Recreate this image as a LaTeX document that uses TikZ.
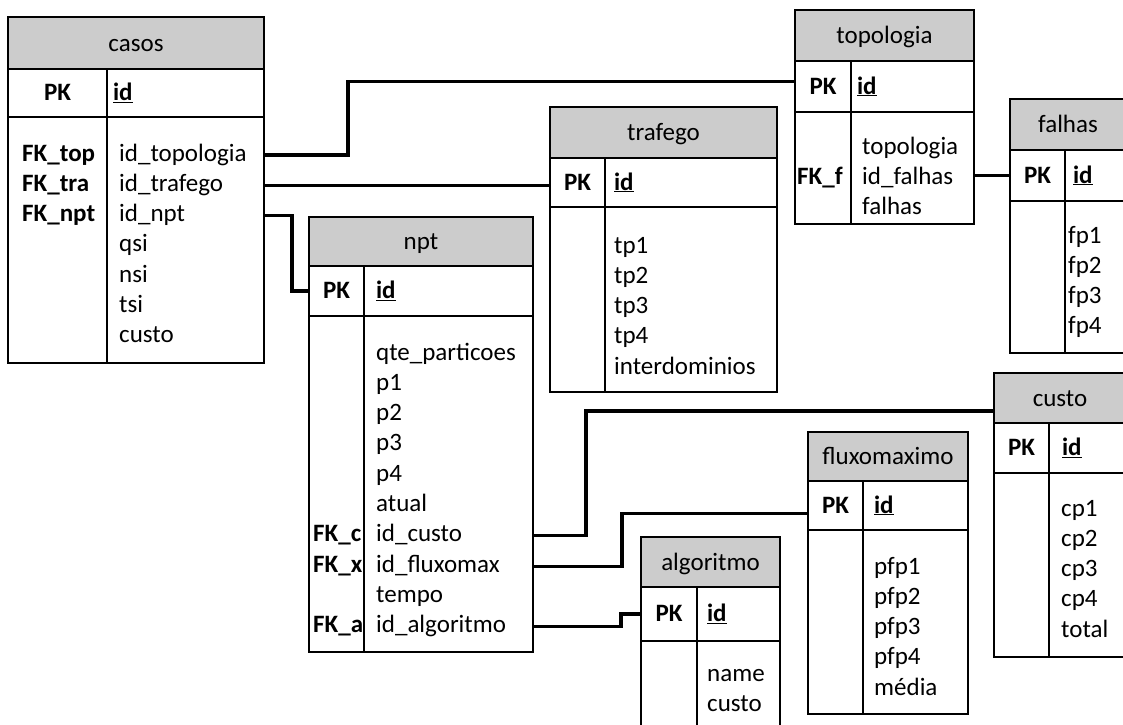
\documentclass[tikz,border=0pt]{standalone}
\usepackage{fontspec}
\setmainfont{Carlito}
\definecolor{headGray}{RGB}{204,204,204}
\tikzstyle{TabHead}=[rectangle, draw=black, fill=headGray, line width=2pt, inner sep=0pt, outer sep=0pt, anchor=north west, text height=20pt, text depth=3.4pt]
\tikzstyle{TabCell}=[rectangle, draw=black, line width=2pt, inner sep=0pt, outer sep=0pt, anchor=north west]
\tikzstyle{PkCell}=[TabCell, font=\bfseries, text height=19pt, text depth=4pt]
\tikzstyle{IdCell}=[TabCell, font=\bfseries, align=left, text height=19pt, text depth=4pt]
\tikzstyle{ColList}=[inner sep=0pt, anchor=base west, text width=200pt, align=left]
\tikzstyle{FkText}=[inner sep=0pt, anchor=base west, font=\bfseries]
\tikzstyle{RefEdge}=[line width=3.2pt]

\begin{document}
\fontsize{25}{30.3}\selectfont
\begin{tikzpicture}[x=1pt, y=-1pt]
\fill[white] (0,0) rectangle (1123,724);
\useasboundingbox (0,0) rectangle (1123,724);
\clip (0,0) rectangle (1123,724);

% casos
\node[TabHead, minimum width=256pt, minimum height=52pt](casos) at (8,17) {casos};
\node[PkCell, minimum width=99pt, minimum height=48pt](casosPK) at (casos.south west) {PK};
\node[IdCell, minimum height=48pt, inner xsep=6pt, text width=145pt](casosID) at (casosPK.north east) {\underline{id}};
\node[TabCell, minimum width=99pt, minimum height=246pt](casosKeys) at (casosPK.south west) {};
\node[TabCell, minimum width=157pt, minimum height=246pt](casosCols) at (casosKeys.north east) {};
\node[ColList](casosList) at (119,161) {id\_topologia\\id\_trafego\\id\_npt\\qsi\\nsi\\tsi\\custo};
\node[FkText](fkTop) at (22,161) {FK\_top};
\node[FkText](fkTra) at (22,191.3) {FK\_tra};
\node[FkText](fkNpt) at (22,221.6) {FK\_npt};

% topologia
\node[TabHead, minimum width=179pt, minimum height=51pt](topologia) at (795,10) {topologia};
\node[PkCell, minimum width=56pt, minimum height=51pt](topoPK) at (topologia.south west) {PK};
\node[IdCell, minimum height=51pt, inner xsep=6pt, text width=111pt](topoID) at (topoPK.north east) {\underline{id}};
\node[TabCell, minimum width=56pt, minimum height=112pt](topoKeys) at (topoPK.south west) {};
\node[TabCell, minimum width=123pt, minimum height=112pt](topoCols) at (topoKeys.north east) {};
\node[ColList](topoList) at (862,154) {topologia\\id\_falhas\\falhas};
\node[FkText](fkF) at (797,184.3) {FK\_f};

% falhas
\node[TabHead, minimum width=116pt, minimum height=51pt](falhas) at (1010,99) {falhas};
\node[PkCell, minimum width=55pt, minimum height=51pt](falhasPK) at (falhas.south west) {PK};
\node[IdCell, minimum height=51pt, inner xsep=8pt, text width=45pt](falhasID) at (falhasPK.north east) {\underline{id}};
\node[TabCell, minimum width=55pt, minimum height=152pt](falhasKeys) at (falhasPK.south west) {};
\node[TabCell, minimum width=61pt, minimum height=152pt](falhasCols) at (falhasKeys.north east) {};
\node[ColList](falhasList) at (1068,243) {fp1\\fp2\\fp3\\fp4};

% trafego
\node[TabHead, minimum width=227pt, minimum height=51pt](trafego) at (550,107) {trafego};
\node[PkCell, minimum width=55pt, minimum height=49pt](trafPK) at (trafego.south west) {PK};
\node[IdCell, minimum height=49pt, inner xsep=9pt, text width=154pt](trafID) at (trafPK.north east) {\underline{id}};
\node[TabCell, minimum width=55pt, minimum height=185pt](trafKeys) at (trafPK.south west) {};
\node[TabCell, minimum width=172pt, minimum height=185pt](trafCols) at (trafKeys.north east) {};
\node[ColList](trafList) at (614,253) {tp1\\tp2\\tp3\\tp4\\interdominios};

% npt
\node[TabHead, minimum width=224pt, minimum height=49pt](npt) at (309,217) {npt};
\node[PkCell, minimum width=55pt, minimum height=50pt](nptPK) at (npt.south west) {PK};
\node[IdCell, minimum height=50pt, inner xsep=12pt, text width=145pt](nptID) at (nptPK.north east) {\underline{id}};
\node[TabCell, minimum width=55pt, minimum height=336pt](nptKeys) at (nptPK.south west) {};
\node[TabCell, minimum width=169pt, minimum height=336pt](nptCols) at (nptKeys.north east) {};
\node[ColList](nptList) at (376,360) {qte\_particoes\\p1\\p2\\p3\\p4\\atual\\id\_custo\\id\_fluxomax\\tempo\\id\_algoritmo};
\node[FkText](fkC) at (313,541.8) {FK\_c};
\node[FkText](fkX) at (313,572.1) {FK\_x};
\node[FkText](fkA) at (313,632.7) {FK\_a};

% custo
\node[TabHead, minimum width=132pt, minimum height=50pt](custo) at (994,373) {custo};
\node[PkCell, minimum width=55pt, minimum height=50pt](custoPK) at (custo.south west) {PK};
\node[IdCell, minimum height=50pt, inner xsep=13pt, text width=51pt](custoID) at (custoPK.north east) {\underline{id}};
\node[TabCell, minimum width=55pt, minimum height=184pt](custoKeys) at (custoPK.south west) {};
\node[TabCell, minimum width=77pt, minimum height=184pt](custoCols) at (custoKeys.north east) {};
\node[ColList](custoList) at (1061,516) {cp1\\cp2\\cp3\\cp4\\total};

% fluxomaximo
\node[TabHead, minimum width=160pt, minimum height=49pt](fluxomaximo) at (808,432) {fluxomaximo};
\node[PkCell, minimum width=55pt, minimum height=49pt](fluxPK) at (fluxomaximo.south west) {PK};
\node[IdCell, minimum height=49pt, inner xsep=11pt, text width=83pt](fluxID) at (fluxPK.north east) {\underline{id}};
\node[TabCell, minimum width=55pt, minimum height=184pt](fluxKeys) at (fluxPK.south west) {};
\node[TabCell, minimum width=105pt, minimum height=184pt](fluxCols) at (fluxKeys.north east) {};
\node[ColList](fluxList) at (874,574) {pfp1\\pfp2\\pfp3\\pfp4\\média};

% algoritmo
\node[TabHead, minimum width=139pt, minimum height=50pt](algoritmo) at (641,537) {algoritmo};
\node[PkCell, minimum width=56pt, minimum height=54pt](algoPK) at (algoritmo.south west) {PK};
\node[IdCell, minimum height=54pt, inner xsep=10pt, text width=63pt](algoID) at (algoPK.north east) {\underline{id}};
\node[TabCell, minimum width=56pt, minimum height=120pt](algoKeys) at (algoPK.south west) {};
\node[TabCell, minimum width=83pt, minimum height=120pt](algoCols) at (algoKeys.north east) {};
\node[ColList](algoList) at (707,681) {name\\custo};

% relations
\draw[RefEdge](casosCols.east |- fkTop.mid) -- ++(84,0) |- ([yshift=5pt]topoPK.west);
\draw[RefEdge](casosCols.east |- fkTra.mid) -- (trafPK.west |- fkTra.mid);
\draw[RefEdge](casosCols.east |- fkNpt.mid) -- ++(28,0) |- (nptPK.west);
\draw[RefEdge](nptCols.east |- fkC.mid) -- ++(53,0) |- ([yshift=-13pt]custo.west);
\draw[RefEdge](nptCols.east |- fkX.mid) -- ++(89,0) |- ([yshift=-8pt]fluxPK.west);
\draw[RefEdge](nptCols.east |- fkA.mid) -- ++(88,0) |- (algoPK.west);
\draw[RefEdge](topoCols.east |- falhasPK.west) -- (falhasPK.west);
\end{tikzpicture}
\end{document}
